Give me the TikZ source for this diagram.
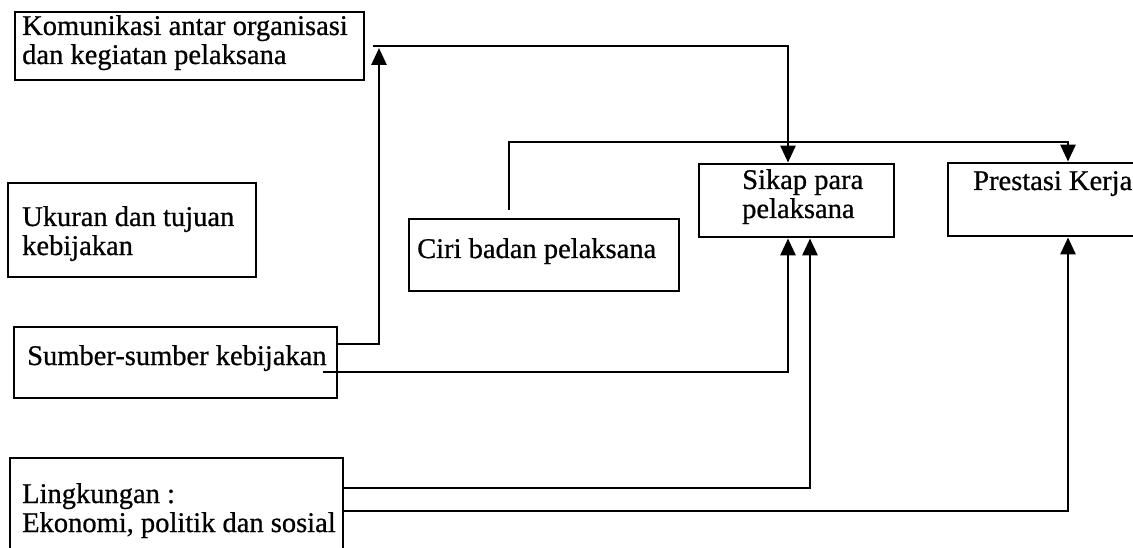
\documentclass[tikz,border=0pt]{standalone}
\usepackage{fontspec}
\setmainfont{Liberation Serif}
\newfontfamily\scanfont{Liberation Serif}[FakeBold=0.7]
\usetikzlibrary{arrows.meta}
\tikzset{
  box/.style={draw, line width=2.8pt, inner sep=0pt, rectangle},
  txt/.style={font=\scanfont\fontsize{28.5}{29}\selectfont, align=left, inner sep=0pt, anchor=base west},
  arr/.style={line width=2.8pt, -{Triangle[length=17pt,width=15pt]}}
}
\begin{document}
\begin{tikzpicture}[x=1pt,y=-1pt]
\useasboundingbox (0,0) rectangle (1133,548);
\clip (0,0) rectangle (1133,548);
% boxes
\node[box, minimum width=349pt, minimum height=68pt] (kom) at (189.5,46) {};
\node[box, minimum width=248pt, minimum height=94pt] (uku) at (132,230) {};
\node[box, minimum width=323pt, minimum height=71pt] (sum) at (175.5,362.5) {};
\node[box, minimum width=333pt, minimum height=112pt] (lin) at (176.5,514) {};
\node[box, minimum width=270pt, minimum height=72pt] (ciri) at (544,255) {};
\node[box, minimum width=195pt, minimum height=73pt] (sik) at (796.5,200.5) {};
\node[box, minimum width=240pt, minimum height=73pt] (pre) at (1068,199.5) {};
% texts (base = baseline of last line)
\node[txt] (komt) at (22,64) {Komunikasi antar organisasi\\dan kegiatan pelaksana};
\node[txt] (ukut) at (22,255) {Ukuran dan tujuan\\kebijakan};
\node[txt] (sumt) at (27,365) {Sumber-sumber kebijakan};
\node[txt] (lint) at (22,532) {Lingkungan :\\Ekonomi, politik dan sosial};
\node[txt] (cirit) at (417,258) {Ciri badan pelaksana};
\node[txt] (sikt) at (742,218) {Sikap para\\pelaksana};
\node[txt] (pret) at (973,190) {Prestasi Kerja};
% connectors
\coordinate (j) at (379,48);
\coordinate (c0) at (509,210);
\coordinate (cb) at (509,142);
\coordinate (s2) at (323,372);
\draw[arr] ([yshift=18.5pt]sum.east) -| (j);
\draw[arr] ([xshift=8pt]kom.east) -| ([xshift=-8.5pt]sik.north);
\draw[arr] (c0) -- (cb) -| (pre.north);
\draw[arr] (s2) -| ([xshift=-8.5pt]sik.south);
\draw[arr] ([yshift=26pt]lin.east) -| ([xshift=13.5pt]sik.south);
\draw[arr] ([yshift=3pt]lin.east) -| (pre.south);
\end{tikzpicture}
\end{document}
